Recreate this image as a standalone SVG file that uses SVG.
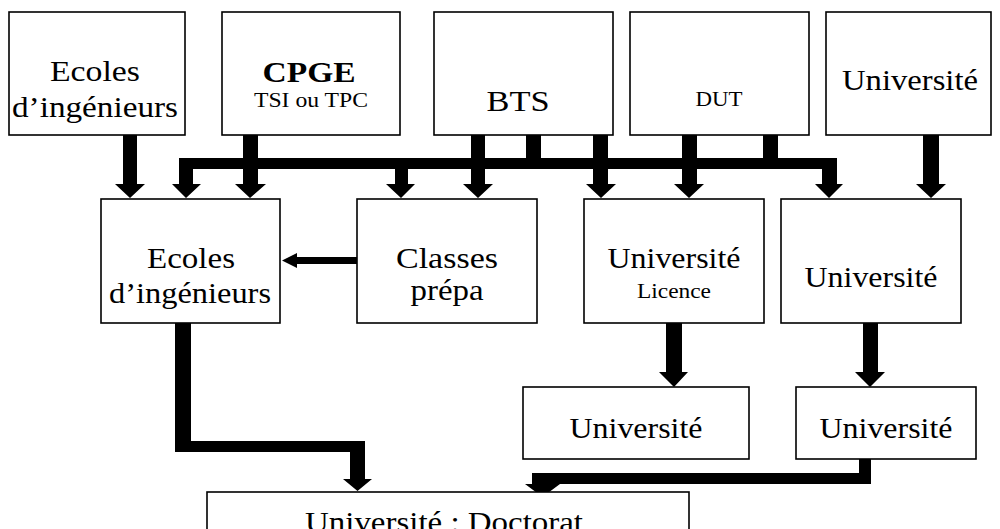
<svg xmlns="http://www.w3.org/2000/svg" width="1000" height="529" viewBox="0 0 1000 529">
<style>
.box{fill:#fff;stroke:#000;stroke-width:1.6}
.t{font-family:"Liberation Serif","Times New Roman",serif;font-size:29px;text-anchor:middle;fill:#000}
.s{font-size:20px}
.b{font-weight:bold}
.c{fill:#000;stroke:none}
</style>
<rect width="1000" height="529" fill="#fff"/>
<g id="connectors">
<path class="c" d="M123,135H137V184H145L130,198L115,184H123Z"/>
<path class="c" d="M179,158H837V184H843L829,198L815,184H822V169H193V184H201L186,198L172,184H179Z"/>
<path class="c" d="M243,135H258V184H266L250,198L235,184H243Z"/>
<path class="c" d="M395,165H408V184H415L401,198L386,184H395Z"/>
<path class="c" d="M471,135H485V184H493L478,198L463,184H471Z"/>
<rect class="c" x="526" y="135" width="15" height="26"/>
<path class="c" d="M593,135H608V184H616L601,198L586,184H593Z"/>
<path class="c" d="M682,135H697V184H704L689,198L674,184H682Z"/>
<rect class="c" x="763" y="135" width="15" height="26"/>
<path class="c" d="M923,135H939V184H946L931,198L916,184H923Z"/>
<path class="c" d="M357,257V264H297V268L282,260.5L297,253V257Z"/>
<path class="c" d="M175,323H191V441H365V479H372L357.5,491L343,479H350V452H175Z"/>
<path class="c" d="M666,323H682V372H688L674,387L659,372H666Z"/>
<path class="c" d="M863,323H878V372H885L870,387L855,372H863Z"/>
<path class="c" d="M859,459H871V484H560L542.5,497L525,484H532V473H859Z"/>
</g>
<g id="n-ecoles-top"><rect class="box" x="9" y="12" width="176" height="123"/>
<text class="t" x="95" y="81" textLength="90" lengthAdjust="spacingAndGlyphs">Ecoles</text>
<text class="t" x="95" y="117" textLength="166" lengthAdjust="spacingAndGlyphs">d’ingénieurs</text></g>
<g id="n-cpge"><rect class="box" x="222" y="12" width="178" height="123"/>
<text class="t b" x="309" y="82" textLength="93" lengthAdjust="spacingAndGlyphs">CPGE</text>
<text class="t s" x="311" y="107" textLength="114" lengthAdjust="spacingAndGlyphs">TSI ou TPC</text></g>
<g id="n-bts"><rect class="box" x="434" y="12" width="179" height="123"/>
<text class="t" x="518" y="111" textLength="63" lengthAdjust="spacingAndGlyphs">BTS</text></g>
<g id="n-dut"><rect class="box" x="630" y="12" width="179" height="123"/>
<text class="t s" x="719" y="106" textLength="47" lengthAdjust="spacingAndGlyphs">DUT</text></g>
<g id="n-univ-top"><rect class="box" x="826" y="12" width="165" height="123"/>
<text class="t" x="910" y="90" textLength="136" lengthAdjust="spacingAndGlyphs">Université</text></g>
<g id="n-ecoles"><rect class="box" x="101" y="199" width="179" height="124"/>
<text class="t" x="191" y="268" textLength="88" lengthAdjust="spacingAndGlyphs">Ecoles</text>
<text class="t" x="190" y="303" textLength="162" lengthAdjust="spacingAndGlyphs">d’ingénieurs</text></g>
<g id="n-classes"><rect class="box" x="357" y="199" width="180" height="124"/>
<text class="t" x="447" y="268" textLength="102" lengthAdjust="spacingAndGlyphs">Classes</text>
<text class="t" x="447" y="300" textLength="73" lengthAdjust="spacingAndGlyphs">prépa</text></g>
<g id="n-licence"><rect class="box" x="584" y="199" width="180" height="124"/>
<text class="t" x="674" y="268" textLength="133" lengthAdjust="spacingAndGlyphs">Université</text>
<text class="t s" x="674" y="298" textLength="74" lengthAdjust="spacingAndGlyphs">Licence</text></g>
<g id="n-univ"><rect class="box" x="781" y="199" width="180" height="124"/>
<text class="t" x="871" y="287" textLength="133" lengthAdjust="spacingAndGlyphs">Université</text></g>
<g id="n-univ-mid1"><rect class="box" x="523" y="387" width="226" height="72"/>
<text class="t" x="636" y="438" textLength="133" lengthAdjust="spacingAndGlyphs">Université</text></g>
<g id="n-univ-mid2"><rect class="box" x="796" y="387" width="180" height="72"/>
<text class="t" x="886" y="438" textLength="133" lengthAdjust="spacingAndGlyphs">Université</text></g>
<g id="n-doctorat"><rect class="box" x="207" y="492" width="482" height="60"/>
<text class="t" x="444" y="532" textLength="278" lengthAdjust="spacingAndGlyphs">Université : Doctorat</text></g>
</svg>
